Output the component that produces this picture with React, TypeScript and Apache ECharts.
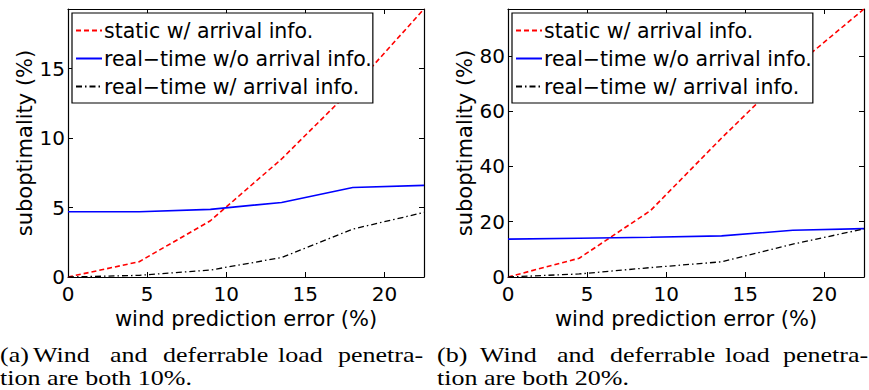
import React, { useEffect, useRef } from "react";
import * as echarts from "echarts";

// ---- data ----
const xValues = [0, 4.5, 9, 13.5, 18, 22.5];
const seriesNames = [
  "static w/ arrival info.",
  "real\u2212time w/o arrival info.",
  "real\u2212time w/ arrival info.",
];
const leftStatic = [0, 1.1, 4.05, 8.5, 13.6, 19.3];
const leftRtNoInfo = [4.7, 4.7, 4.87, 5.37, 6.45, 6.6];
const leftRtInfo = [0, 0.12, 0.5, 1.4, 3.45, 4.65];
const rightStatic = [0, 6.8, 24, 50.3, 75.5, 97];
const rightRtNoInfo = [13.7, 14.0, 14.4, 14.9, 16.9, 17.5];
const rightRtInfo = [0, 1.1, 3.4, 5.5, 11.9, 17.4];
const xMax = 22.5;
const xInterval = 5;
const leftYMax = 19.3;
const leftYInterval = 5;
const rightYMax = 97;
const rightYInterval = 20;
const xTitle = "wind prediction error (%)";
const yTitle = "suboptimality (%)";
const captionA1 = ["(a)", "Wind", "and", "deferrable", "load", "penetra-"];
const captionA2 = "tion are both 10%.";
const captionB1 = ["(b)", "Wind", "and", "deferrable", "load", "penetra-"];
const captionB2 = "tion are both 20%.";

// ---- layout ----
const SANS = "DejaVu Sans";
const SERIF = "Liberation Serif";
const grids = [
  { left: 68, top: 9, width: 356, height: 268 },
  { left: 508, top: 9, width: 356, height: 268 },
];
const capAX = [0, 33, 110, 163, 278, 338];
const capBX = [437, 480, 557, 610, 725, 783];
const styles = [
  { color: "#ff0000", type: [5, 3], width: 1.6 },
  { color: "#0000ff", type: "solid", width: 1.6 },
  { color: "#000000", type: [6, 3, 1.5, 3], width: 1.3 },
];

function pairs(ys: number[]) {
  return xValues.map((x, i) => [x, ys[i]]);
}

function axesFor(gi: number, yMax: number, yInt: number) {
  const line = { show: true, onZero: false, lineStyle: { color: "#000", width: 1.2 } };
  const tick = { show: true, inside: true, length: 5, lineStyle: { color: "#000", width: 1 } };
  const label = { color: "#000", fontSize: 20, fontFamily: SANS };
  const nameStyle = { color: "#000", fontSize: 21, fontFamily: SANS };
  const xa = [
    {
      type: "value", gridIndex: gi, min: 0, max: xMax, interval: xInterval, position: "bottom",
      axisLine: line, axisTick: tick, splitLine: { show: false },
      axisLabel: { ...label, margin: 7, showMaxLabel: false },
      name: xTitle, nameLocation: "middle", nameGap: 26,
      nameTextStyle: nameStyle,
    },
    {
      type: "value", gridIndex: gi, min: 0, max: xMax, interval: xInterval, position: "top",
      axisLine: line, axisTick: tick, splitLine: { show: false }, axisLabel: { show: false },
    },
  ];
  const ya = [
    {
      type: "value", gridIndex: gi, min: 0, max: yMax, interval: yInt, position: "left",
      axisLine: line, axisTick: tick, splitLine: { show: false },
      axisLabel: { ...label, margin: 3, lineHeight: 14, showMaxLabel: false },
      name: yTitle, nameLocation: "middle", nameGap: 33,
      nameTextStyle: nameStyle,
    },
    {
      type: "value", gridIndex: gi, min: 0, max: yMax, interval: yInt, position: "right",
      axisLine: line, axisTick: tick, splitLine: { show: false }, axisLabel: { show: false },
    },
  ];
  return { xa, ya };
}

function seriesFor(gi: number, data: number[][]) {
  return data.map((ys, k) => ({
    type: "line",
    name: seriesNames[k],
    xAxisIndex: gi * 2,
    yAxisIndex: gi * 2,
    data: pairs(ys),
    symbol: "none",
    lineStyle: { ...styles[k] },
    itemStyle: { color: styles[k].color },
    z: 2,
  }));
}

function legendFor(left: number) {
  return {
    left, top: 13, orient: "vertical",
    data: seriesNames,
    itemWidth: 26, itemHeight: 14, itemGap: 7,
    padding: [7, 1, 6, 3],
    borderColor: "#000", borderWidth: 1.2, backgroundColor: "#fff",
    itemStyle: { opacity: 0 },
    textStyle: { color: "#000", fontSize: 20.5, fontFamily: SANS, padding: [0, 0, 0, -3] },
    selectedMode: false,
  };
}

function captionTexts(words: string[], xs: number[], line2: string) {
  const base = { fontFamily: SERIF, fontSize: 20, fill: "#000", verticalAlign: "middle", align: "left" };
  const els: any[] = words.map((w, i) => ({
    type: "text", x: xs[i], y: 355, scaleX: 1.3,
    style: { ...base, text: w },
  }));
  els.push({
    type: "text", x: xs[0], y: 378, scaleX: 1.3,
    style: { ...base, text: line2 },
  });
  return els;
}

export default function App() {
  const ref = useRef<HTMLDivElement>(null);
  useEffect(() => {
    if (!ref.current) return;
    const chart = echarts.init(ref.current, null, { renderer: "svg" });
    const a = axesFor(0, leftYMax, leftYInterval);
    const b = axesFor(1, rightYMax, rightYInterval);
    chart.setOption({
      animation: false,
      backgroundColor: "#fff",
      grid: grids.map((g) => ({ ...g, containLabel: false })),
      xAxis: [...a.xa, ...b.xa],
      yAxis: [...a.ya, ...b.ya],
      legend: [legendFor(72), legendFor(512)],
      series: [
        ...seriesFor(0, [leftStatic, leftRtNoInfo, leftRtInfo]),
        ...seriesFor(1, [rightStatic, rightRtNoInfo, rightRtInfo]),
      ],
      graphic: [
        ...captionTexts(captionA1, capAX, captionA2),
        ...captionTexts(captionB1, capBX, captionB2),
      ],
    });
    return () => chart.dispose();
  }, []);
  return (
    <div
      ref={ref}
      style={{ position: "fixed", left: 0, top: 0, width: 869, height: 390, background: "#fff" }}
    />
  );
}
